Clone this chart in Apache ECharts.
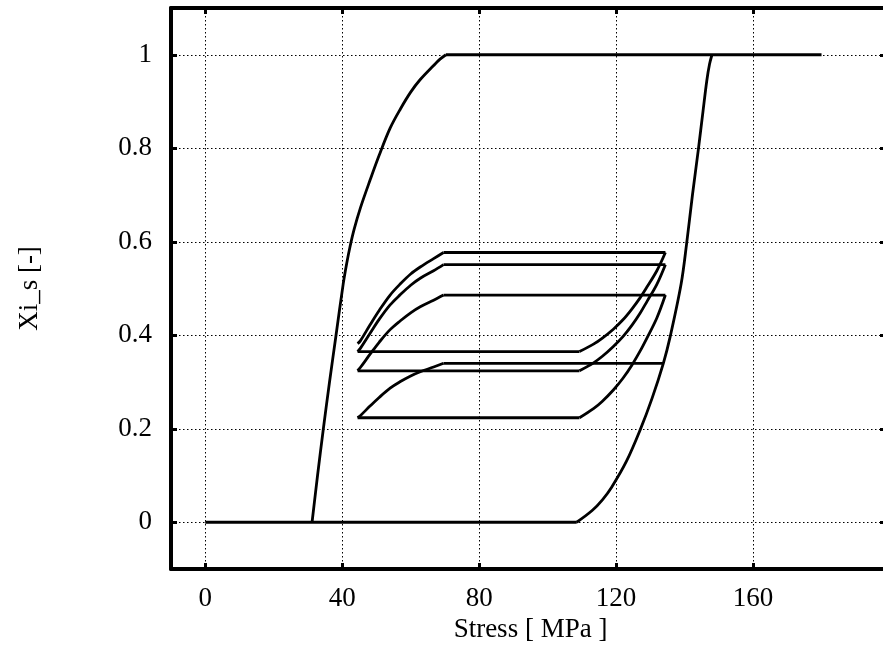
<!DOCTYPE html>
<html>
<head>
<meta charset="utf-8">
<script src="https://cdn.jsdelivr.net/npm/echarts@6/dist/echarts.min.js"></script>
<style>
  html, body { margin: 0; padding: 0; background: #fff; overflow: hidden; }
  #chart { width: 883px; height: 645px; }
</style>
</head>
<body>
<div id="chart"></div>
<script>
const xTicks = [0, 40, 80, 120, 160];
const yTicks = [0, 0.2, 0.4, 0.6, 0.8, 1];

// major loop
const majorBottom = [[0, 0], [108.5, 0]];
const majorLoad = [[108.5, 0], [113, 0.025], [116, 0.048], [118.7, 0.075], [123, 0.13], [127, 0.197],
  [130.5, 0.265], [133.8, 0.34], [135.8, 0.397], [139, 0.51], [140.6, 0.596], [142.3, 0.7],
  [144, 0.796], [145.4, 0.88], [146.5, 0.945], [147.3, 0.98], [148, 1]];
const majorTop = [[70.3, 1], [180, 1]];
const majorUnload = [[70.3, 1], [68.5, 0.99], [66.7, 0.977], [62.8, 0.947], [60, 0.92], [57, 0.884],
  [54, 0.843], [50.8, 0.785], [48.2, 0.733], [45.3, 0.672], [43.5, 0.627], [42.3, 0.59], [41.3, 0.553],
  [40.3, 0.51], [38.2, 0.4], [36.3, 0.3], [34.5, 0.2], [32.8, 0.1], [31.2, 0]];

// partial cycles between ~45 and ~135 MPa
const unloadStress = [69.6, 66.7, 62.8, 60, 57, 54, 50.8, 48.2, 45.3, 44.5];
const unload1 = [0.34, 0.332, 0.322, 0.313, 0.301, 0.287, 0.267, 0.249, 0.228, 0.2235];
const unload2 = [0.486, 0.475, 0.461, 0.448, 0.431, 0.412, 0.385, 0.36, 0.331, 0.324];
const unload3 = [0.551, 0.538, 0.522, 0.507, 0.487, 0.465, 0.434, 0.405, 0.372, 0.365];
const unload4 = [0.577, 0.564, 0.546, 0.531, 0.51, 0.486, 0.453, 0.423, 0.388, 0.382];

const loadStress = [109.3, 113.4, 116, 119.2, 122, 124.6, 127, 129, 131.9, 134.4];
const load1 = [0.2235, 0.243, 0.259, 0.283, 0.308, 0.336, 0.366, 0.394, 0.437, 0.486];
const load2 = [0.324, 0.341, 0.355, 0.376, 0.397, 0.421, 0.447, 0.472, 0.509, 0.551];
const load3 = [0.365, 0.381, 0.394, 0.413, 0.433, 0.456, 0.48, 0.503, 0.538, 0.577];

const innerStart = [133.8, 0.34];

function pairs(xs, ys) {
  return xs.map((x, i) => [x, ys[i]]);
}

// curved branches get smoothed, the flat parts joining them stay straight
const curves = [majorLoad, majorUnload];
const flats = [majorBottom, majorTop];

const innerCurves = [
  pairs(unloadStress, unload1),
  pairs(loadStress, load1),
  pairs(unloadStress, unload2),
  pairs(loadStress, load2),
  pairs(unloadStress, unload3),
  pairs(loadStress, load3),
  pairs(unloadStress, unload4),
];
let prev = innerStart;
innerCurves.forEach((c) => {
  flats.push([prev, c[0]]);
  curves.push(c);
  prev = c[c.length - 1];
});

const lineStyle = { color: "#000", width: 2.8 };
const series = [];
curves.forEach((d) => series.push({ type: "line", data: d, symbol: "none", smooth: 0.35, lineStyle }));
flats.forEach((d) => series.push({ type: "line", data: d, symbol: "none", lineStyle }));

const font = "'Liberation Serif', 'DejaVu Serif', serif";
const border = { show: true, onZero: false, lineStyle: { color: "#000", width: 4 } };
const dots = { show: true, lineStyle: { color: "#000", width: 1, type: [1.5, 2.5] } };

function ticks(vals, len) {
  return { show: true, inside: true, length: len || 6, customValues: vals, lineStyle: { color: "#000", width: 3 } };
}

const chart = echarts.init(document.getElementById("chart"));

chart.setOption({
  backgroundColor: "#fff",
  animation: false,
  grid: { left: 171, top: 8, width: 719, height: 561, outerBoundsMode: "none" },
  xAxis: [
    {
      type: "value", position: "bottom", min: -10, max: 200,
      axisLine: border, axisTick: ticks(xTicks), splitLine: dots,
      axisLabel: { customValues: xTicks, margin: 16, color: "#000", fontFamily: font, fontSize: 27 },
      name: "Stress [ MPa ]", nameLocation: "middle", nameGap: 44,
      nameTextStyle: { color: "#000", fontFamily: font, fontSize: 27 },
    },
    {
      type: "value", position: "top", min: -10, max: 200,
      axisLine: border, axisTick: ticks(xTicks), splitLine: { show: false },
      axisLabel: { show: false },
    },
  ],
  yAxis: [
    {
      type: "value", position: "left", min: -0.1, max: 1.1,
      axisLine: border, axisTick: ticks(yTicks), splitLine: dots,
      axisLabel: { customValues: yTicks, margin: 19, color: "#000", fontFamily: font, fontSize: 27 },
      name: "Xi_s [-]", nameLocation: "middle", nameGap: 128, nameRotate: 90,
      nameTextStyle: { color: "#000", fontFamily: font, fontSize: 27 },
    },
    {
      // right frame edge sits just past the picture, only its ticks peek in
      type: "value", position: "right", min: -0.1, max: 1.1,
      axisLine: border, axisTick: ticks(yTicks, 10), splitLine: { show: false },
      axisLabel: { show: false },
    },
  ],
  series,
});
</script>
</body>
</html>
